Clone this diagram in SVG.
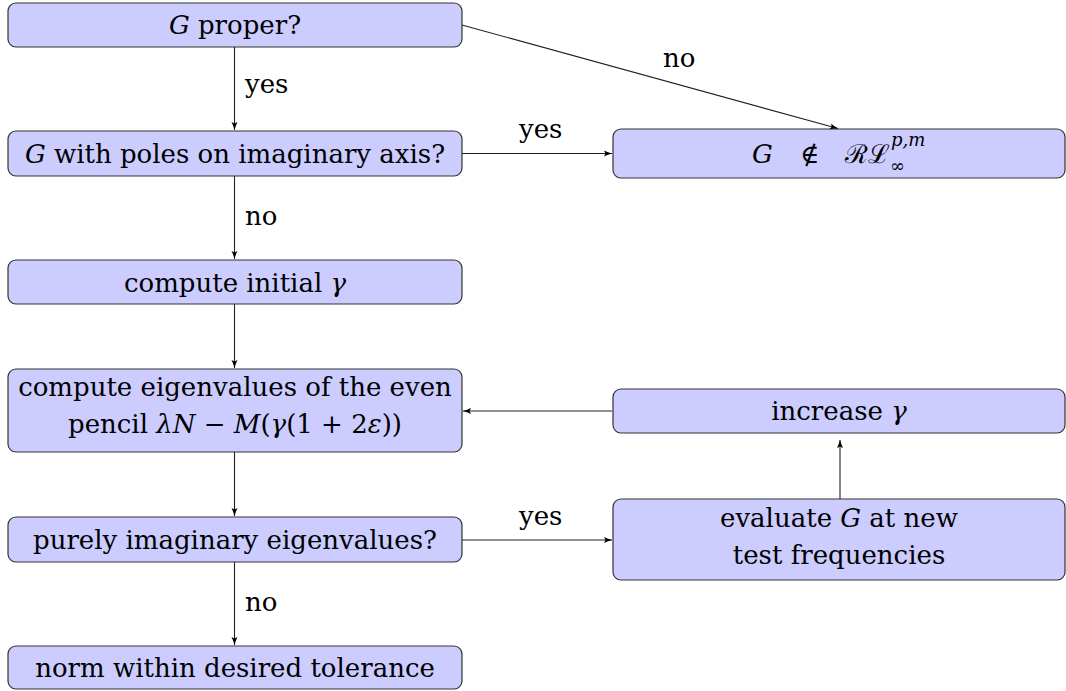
<svg xmlns="http://www.w3.org/2000/svg" width="1066" height="691" viewBox="0 0 1066 691">
<style>
.box{fill:#ccccff;stroke:#333;stroke-width:1.2}
.tx{font-family:'DejaVu Serif','Liberation Serif',serif;font-size:26px;fill:#000}
.t{text-anchor:middle}
.i{font-style:italic}
.sm{font-size:18px}
.c{fill:none;stroke:#222;stroke-width:1.1;marker-end:url(#ah)}
</style>
<defs>
<marker id="ah" markerUnits="userSpaceOnUse" markerWidth="9" markerHeight="7" refX="8" refY="3.5" orient="auto">
<path d="M0,0.5 Q4,2.5 8,3.5 Q4,4.5 0,6.5 L1.5,3.5 Z" fill="#000"/>
</marker>
</defs>
<g id="n1"><rect class="box" x="8" y="3" width="454" height="44" rx="8"/><text class="tx t" x="235" y="34"><tspan class="i">G</tspan> proper?</text></g>
<g id="n2"><rect class="box" x="8" y="131" width="454" height="45" rx="8"/><text class="tx t" x="235" y="163"><tspan class="i">G</tspan> with poles on imaginary axis?</text></g>
<g id="n3"><rect class="box" x="8" y="260" width="454" height="44" rx="8"/><text class="tx t" x="235" y="292">compute initial <tspan class="i">γ</tspan></text></g>
<g id="n4"><rect class="box" x="8" y="369" width="454" height="83" rx="8"/><text class="tx t" x="235" y="396">compute eigenvalues of the even</text><text class="tx t" x="235" y="433">pencil <tspan class="i">λN</tspan> − <tspan class="i">M</tspan>(<tspan class="i">γ</tspan>(1 + 2<tspan class="i">ε</tspan>))</text></g>
<g id="n5"><rect class="box" x="8" y="517" width="454" height="45" rx="8"/><text class="tx t" x="235" y="549">purely imaginary eigenvalues?</text></g>
<g id="n6"><rect class="box" x="8" y="646" width="454" height="43" rx="8"/><text class="tx t" x="235" y="677">norm within desired tolerance</text></g>
<g id="n7"><rect class="box" x="613" y="129" width="452" height="49" rx="8"/><text class="tx" y="163"><tspan class="i" x="752">G</tspan><tspan x="800">∉</tspan><tspan x="845">ℛℒ</tspan></text><text class="tx sm" x="890" y="172">∞</text><text class="tx sm i" x="891" y="146">p,m</text></g>
<g id="n8"><rect class="box" x="613" y="389" width="452" height="44" rx="8"/><text class="tx t" x="839" y="420">increase <tspan class="i">γ</tspan></text></g>
<g id="n9"><rect class="box" x="613" y="499" width="452" height="81" rx="8"/><text class="tx t" x="839" y="527">evaluate <tspan class="i">G</tspan> at new</text><text class="tx t" x="839" y="564">test frequencies</text></g>
<g id="connectors">
<line class="c" x1="234.5" y1="47" x2="234.5" y2="130"/>
<line class="c" x1="234.5" y1="176" x2="234.5" y2="259"/>
<line class="c" x1="234.5" y1="304" x2="234.5" y2="368"/>
<line class="c" x1="234.5" y1="452" x2="234.5" y2="516"/>
<line class="c" x1="234.5" y1="562" x2="234.5" y2="645"/>
<line class="c" x1="462" y1="25" x2="838" y2="128.5"/>
<line class="c" x1="462" y1="153.5" x2="612" y2="153.5"/>
<line class="c" x1="462" y1="540" x2="612" y2="540"/>
<line class="c" x1="840" y1="499" x2="840" y2="440"/>
<line class="c" x1="612" y1="411" x2="463" y2="411"/>
<text class="tx" x="245" y="93">yes</text>
<text class="tx" x="245" y="225">no</text>
<text class="tx" x="245" y="611">no</text>
<text class="tx" x="663" y="67">no</text>
<text class="tx" x="519" y="138">yes</text>
<text class="tx" x="519" y="525">yes</text>
</g>
</svg>
